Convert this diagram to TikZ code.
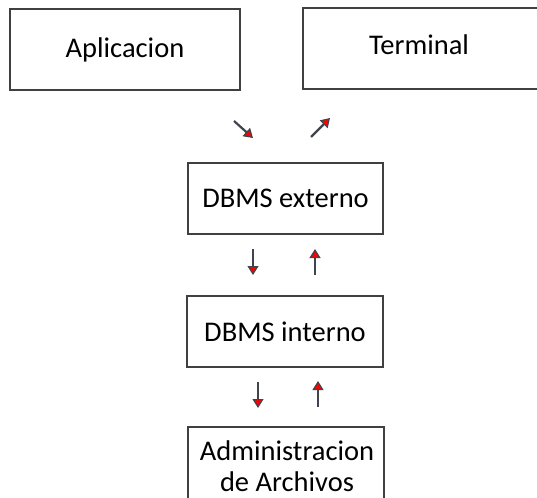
\documentclass[tikz,border=0pt]{standalone}
\usepackage{fontspec}
\setmainfont{Carlito}
\usetikzlibrary{arrows.meta}
\definecolor{boxline}{HTML}{404040}
\definecolor{arrline}{HTML}{40444E}
\tikzset{
  box/.style={draw=boxline, line width=1.3pt, rectangle, inner sep=0pt, align=center},
  txt/.style={inner sep=0pt, align=center, text=black},
  arr/.style={draw=arrline, line width=2.2pt,
    -{Triangle[length=9pt, width=11pt, fill=red, line width=1.2pt]}},
}
\begin{document}
\begin{tikzpicture}[x=1pt, y=-1pt, font=\fontsize{28.5}{31}\selectfont]
\useasboundingbox (0,0) rectangle (537,497);
\clip (0,0) rectangle (537,497);
% boxes
\node[box, minimum width=230pt, minimum height=81pt] (apl) at (125,49.5) {Aplicacion};
\node[box, minimum width=260pt, minimum height=81pt] (term) at (433,48.5) {};
\node[txt] (termtext) at (419,45) {Terminal};
\node[box, minimum width=195pt, minimum height=71pt] (ext) at (285.5,198.5) {DBMS externo};
\node[box, minimum width=196pt, minimum height=71pt] (int) at (285,331.5) {DBMS interno};
\node[box, minimum width=196pt, minimum height=110pt] (adm) at (286,482) {};
\node[txt] (admtext) at (287,466) {Administracion\\de Archivos};
% arrow end points
\coordinate (a1s) at (234,121);
\coordinate (a1e) at (253,138);
\coordinate (a2s) at (311,137);
\coordinate (a2e) at (330,118);
\coordinate (b1s) at (253,249);
\coordinate (b1e) at (253,275);
\coordinate (b2s) at (315,275);
\coordinate (b2e) at (315,249);
\coordinate (c1s) at (258,382);
\coordinate (c1e) at (258,408);
\coordinate (c2s) at (318,407);
\coordinate (c2e) at (318,381);
% arrows
\draw[arr] (a1s) -- (a1e);
\draw[arr] (a2s) -- (a2e);
\draw[arr] (b1s) -- (b1e);
\draw[arr] (b2s) -- (b2e);
\draw[arr] (c1s) -- (c1e);
\draw[arr] (c2s) -- (c2e);
\end{tikzpicture}
\end{document}
